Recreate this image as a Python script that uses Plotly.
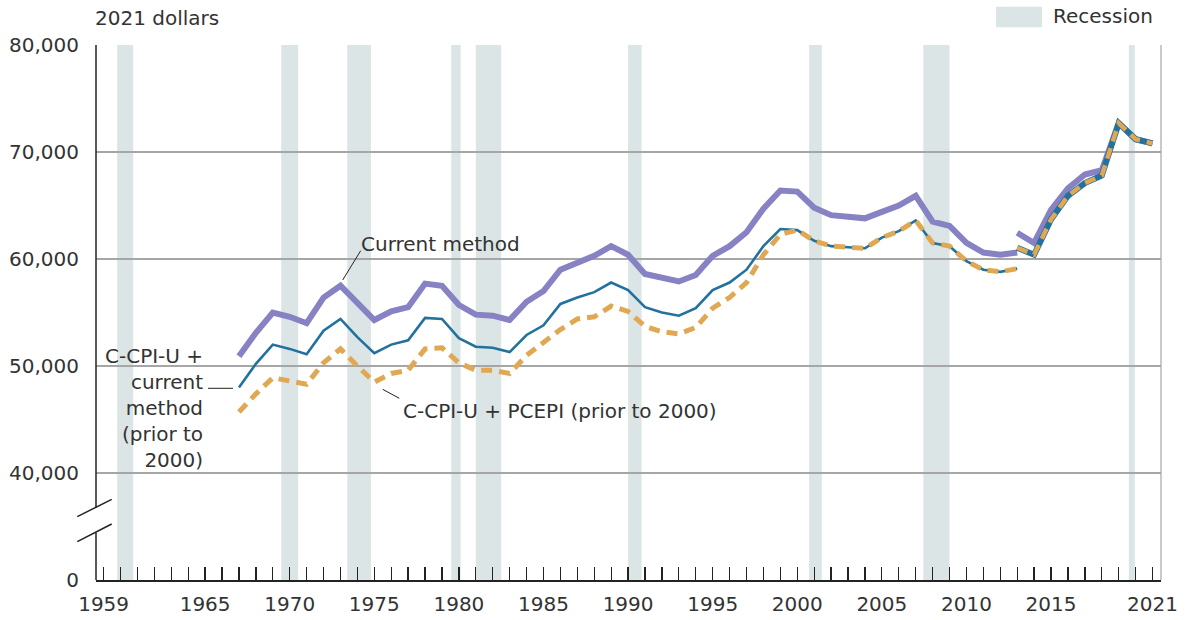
import plotly.graph_objects as go

# ---------------- data ----------------
years_old = list(range(1967, 2014))
years_new = list(range(2013, 2022))

current_old = [50900, 53100, 55000, 54600, 54000, 56400, 57500, 55800, 54300, 55100,
               55500, 57700, 57500, 55700, 54800, 54700, 54300, 56000, 57000, 59000,
               59700, 60300, 61200, 60400, 58600, 58200, 57900, 58500, 60300, 61200,
               62500, 64700, 66400, 66300, 64800, 64100, 64000, 63800, 64400, 65000,
               65900, 63500, 63100, 61500, 60600, 60400, 60600]
current_new = [62450, 61500, 64600, 66600, 67900, 68300, 72700, 71200, 70800]

ccpi_old = [48000, 50200, 52000, 51600, 51100, 53300, 54400, 52700, 51200, 52000,
            52400, 54500, 54400, 52600, 51800, 51700, 51300, 52900, 53800, 55800,
            56400, 56900, 57800, 57100, 55500, 55000, 54700, 55400, 57100, 57800,
            59000, 61200, 62800, 62700, 61700, 61200, 61100, 61000, 62000, 62600,
            63600, 61500, 61200, 59800, 59000, 58800, 59100]
ccpi_new = [61050, 60400, 63700, 65900, 67100, 67800, 72700, 71200, 70800]

# C-CPI-U + PCEPI: distinct values 1967-1999, equal to C-CPI-U series from 2000
pcepi_1967_1999 = [45700, 47400, 48900, 48600, 48300, 50300, 51600, 50000, 48500, 49300,
                   49600, 51600, 51700, 50300, 49600, 49600, 49300, 51000, 52200, 53400,
                   54400, 54600, 55600, 55100, 53700, 53200, 53000, 53600, 55400, 56400,
                   57800, 60400, 62300]
pcepi_old = pcepi_1967_1999 + ccpi_old[len(pcepi_1967_1999):]
pcepi_new = list(ccpi_new)

recession_start = [1959.8, 1969.5, 1973.4, 1979.55, 1981.0, 1990.0, 2000.7, 2007.45, 2019.6]
recession_end = [1960.75, 1970.5, 1974.8, 1980.1, 1982.5, 1990.8, 2001.45, 2009.0, 2019.95]

tick_years = list(range(1959, 2022))
labeled_years = [1959, 1965, 1970, 1975, 1980, 1985, 1990, 1995, 2000, 2005, 2010, 2015, 2021]
y_tickvals = [30000, 40000, 50000, 60000, 70000, 80000]
y_ticktext = ["0", "40,000", "50,000", "60,000", "70,000", "80,000"]

# ---------------- styling ----------------
FONT = "DejaVu Sans"
FS = 20
TXT = "#333333"
PURPLE = "#8782c3"
BLUE = "#22719e"
ORANGE = "#e1a853"
REC = "#dce5e6"
GRID = "#a6a6a6"

W, H = 1189, 620
L, R, T, B = 96, 1161, 45, 580


def px(x):
    return (x - L) / (R - L)


def py(y):
    return (B - y) / (B - T)


fig = go.Figure()

fig.add_trace(go.Scatter(x=years_old, y=current_old, mode="lines",
                         line=dict(color=PURPLE, width=6), hoverinfo="skip", showlegend=False))
fig.add_trace(go.Scatter(x=years_new, y=current_new, mode="lines",
                         line=dict(color=PURPLE, width=6), hoverinfo="skip", showlegend=False))
fig.add_trace(go.Scatter(x=years_old, y=ccpi_old, mode="lines",
                         line=dict(color=BLUE, width=2.6), hoverinfo="skip", showlegend=False))
fig.add_trace(go.Scatter(x=years_new, y=ccpi_new, mode="lines",
                         line=dict(color=BLUE, width=6), hoverinfo="skip", showlegend=False))
fig.add_trace(go.Scatter(x=years_old, y=pcepi_old, mode="lines",
                         line=dict(color=ORANGE, width=5, dash="11px,7px"),
                         hoverinfo="skip", showlegend=False))
fig.add_trace(go.Scatter(x=years_new, y=pcepi_new, mode="lines",
                         line=dict(color=ORANGE, width=4.5, dash="11px,7px"),
                         hoverinfo="skip", showlegend=False))

shapes = []
for s, e in zip(recession_start, recession_end):
    shapes.append(dict(type="rect", xref="x", yref="paper", x0=s, x1=e, y0=0, y1=1,
                       fillcolor=REC, line=dict(width=0), layer="below"))

# gray right border
shapes.append(dict(type="line", xref="paper", yref="paper", x0=1, x1=1, y0=0, y1=1,
                   line=dict(color=GRID, width=1.2)))
# left axis with break
gap_top, gap_bot = 507.4, 532.4
shapes.append(dict(type="line", xref="paper", yref="paper", x0=0, x1=0, y0=1, y1=py(gap_top),
                   line=dict(color="#222222", width=1.5)))
shapes.append(dict(type="line", xref="paper", yref="paper", x0=0, x1=0, y0=py(gap_bot), y1=0,
                   line=dict(color="#222222", width=1.5)))
# break marks
for (x0, y0, x1, y1) in [(77.3, 516.7, 111.7, 499.3), (77.3, 541.7, 111.7, 524.0)]:
    shapes.append(dict(type="line", xref="paper", yref="paper", x0=px(x0), y0=py(y0),
                       x1=px(x1), y1=py(y1), line=dict(color="#222222", width=1.5)))
# legend swatch
shapes.append(dict(type="rect", xref="paper", yref="paper", x0=px(996), x1=px(1042),
                   y0=py(27.3), y1=py(6.7), fillcolor=REC, line=dict(width=0)))
# leader lines
for (x0, y0, x1, y1) in [(342.7, 280.0, 360.7, 250.7), (382.7, 389.3, 399.3, 398.3),
                         (208.0, 388.3, 233.0, 388.3)]:
    shapes.append(dict(type="line", xref="paper", yref="paper", x0=px(x0), y0=py(y0),
                       x1=px(x1), y1=py(y1), line=dict(color="#222222", width=1)))

annotations = [
    dict(text="2021 dollars", x=px(93), y=py(18), xanchor="left", yanchor="middle"),
    dict(text="Recession", x=px(1051), y=py(16), xanchor="left", yanchor="middle"),
    dict(text="Current method", x=px(359), y=py(244), xanchor="left", yanchor="middle"),
    dict(text="C-CPI-U + PCEPI (prior to 2000)", x=px(401), y=py(411), xanchor="left",
         yanchor="middle"),
    dict(text="C-CPI-U +<br>current<br>method<br>(prior to<br>2000)", x=px(205), y=py(407.5),
         xanchor="right", yanchor="middle", align="right"),
]
for a in annotations:
    a.update(xref="paper", yref="paper", showarrow=False,
             font=dict(family=FONT, size=FS, color=TXT))

fig.update_layout(
    width=W, height=H,
    margin=dict(l=L, r=W - R, t=T, b=H - B, pad=0, autoexpand=False),
    paper_bgcolor="white", plot_bgcolor="white",
    font=dict(family=FONT, size=FS, color=TXT),
    shapes=shapes, annotations=annotations, showlegend=False,
    xaxis=dict(range=[1958.55, 2021.5], tickvals=tick_years,
               ticktext=[str(y) if y in labeled_years else "" for y in tick_years],
               ticks="inside", ticklen=13, tickwidth=1.3, tickcolor="#222222",
               showline=True, linecolor="#222222", linewidth=1.5, showgrid=False,
               zeroline=False, ticklabelstandoff=5, automargin=False,
               tickfont=dict(family=FONT, size=FS, color=TXT)),
    yaxis=dict(range=[30000, 80000], tickvals=y_tickvals, ticktext=y_ticktext,
               ticks="", showline=False, showgrid=True, gridcolor=GRID, gridwidth=1.2,
               zeroline=False, ticklabelstandoff=16, automargin=False,
               tickfont=dict(family=FONT, size=FS, color=TXT)),
)

fig.write_html("out.html", config={"displayModeBar": False, "staticPlot": True},
               post_script="document.body.style.margin='0';")
